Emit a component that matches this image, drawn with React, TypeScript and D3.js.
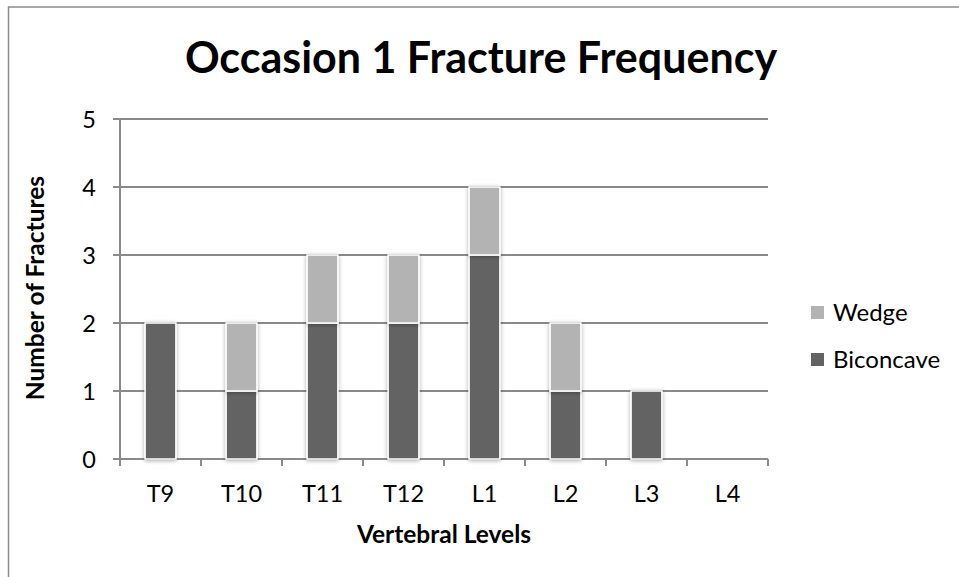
import React from "react";
import * as d3 from "d3";

const categories = ["T9", "T10", "T11", "T12", "L1", "L2", "L3", "L4"];
const biconcave = [2, 1, 2, 2, 3, 1, 1, 0];
const wedge = [0, 1, 1, 1, 1, 1, 0, 0];
const yTicks = [0, 1, 2, 3, 4, 5];
const seriesNames = ["Biconcave", "Wedge"];
const seriesColors = ["#636363", "#b3b3b3"];

const W = 959;
const H = 577;
const FONT = "Lato, 'Open Sans', sans-serif";

export default function App() {
  const x = d3.scaleBand<string>().domain(categories).range([120, 768]).paddingInner(0).paddingOuter(0);
  const y = d3.scaleLinear().domain([0, 5]).range([459, 119]);
  const rows = categories.map((c, i) => ({ cat: c, Biconcave: biconcave[i], Wedge: wedge[i] }));
  const stack = d3.stack<any>().keys(seriesNames)(rows);
  const barW = x.bandwidth() * 0.38;
  const gridColor = "#8a8a8a";
  const boundaries = d3.range(categories.length + 1).map((i) => 120 + i * x.bandwidth());

  return (
    <svg width={W} height={H} style={{ position: "absolute", left: 0, top: 0 }}>
      <defs>
        <filter id="sh" x="-30%" y="-10%" width="160%" height="130%">
          <feGaussianBlur in="SourceAlpha" stdDeviation="2" />
          <feOffset dx="0" dy="1" result="b" />
          <feComponentTransfer>
            <feFuncA type="linear" slope="0.35" />
          </feComponentTransfer>
          <feMerge>
            <feMergeNode />
            <feMergeNode in="SourceGraphic" />
          </feMerge>
        </filter>
      </defs>
      <rect x={0} y={0} width={W} height={H} fill="#fff" />
      <rect x={8.5} y={7} width={W + 10} height={H + 10} fill="none" stroke="#8c8c8c" strokeWidth={1.5} />
      <text x={481} y={73} textAnchor="middle" fontFamily={FONT} fontWeight={700} fontSize={43} fill="#000">
        Occasion 1 Fracture Frequency
      </text>
      {yTicks.map((t) => (
        <g key={t}>
          <line x1={113} x2={768} y1={y(t)} y2={y(t)} stroke={gridColor} strokeWidth={2} />
          <text x={96} y={y(t) + 8.5} textAnchor="end" fontFamily={FONT} fontSize={23.5} fill="#000">
            {t}
          </text>
        </g>
      ))}
      <line x1={120} x2={120} y1={119} y2={466} stroke={gridColor} strokeWidth={2} />
      {boundaries.map((b, i) => (
        <line key={i} x1={b} x2={b} y1={459} y2={466} stroke={gridColor} strokeWidth={2} />
      ))}
      {stack.map((s, si) => (
        <g key={s.key}>
          {s.map((d, i) => {
            const h = y(d[0]) - y(d[1]);
            if (h <= 0) return null;
            return (
              <rect
                key={i}
                x={(x(categories[i]) as number) + (x.bandwidth() - barW) / 2}
                y={y(d[1])}
                width={barW}
                height={h}
                fill={seriesColors[si]}
                stroke="#fff"
                strokeWidth={1.5}
                filter="url(#sh)"
              />
            );
          })}
        </g>
      ))}
      {categories.map((c) => (
        <text
          key={c}
          x={(x(c) as number) + x.bandwidth() / 2}
          y={502}
          textAnchor="middle"
          fontFamily={FONT}
          fontSize={23.5}
          fill="#000"
        >
          {c}
        </text>
      ))}
      <text x={444} y={543} textAnchor="middle" fontFamily={FONT} fontWeight={700} fontSize={24.5} fill="#000">
        Vertebral Levels
      </text>
      <text
        transform={`translate(44,288) rotate(-90)`}
        textAnchor="middle"
        fontFamily={FONT}
        fontWeight={700}
        fontSize={24.5}
        fill="#000"
      >
        Number of Fractures
      </text>
      {[1, 0].map((si, k) => (
        <g key={si} transform={`translate(811,${312.5 + k * 47})`}>
          <rect x={0} y={-6.5} width={13} height={13} fill={seriesColors[si]} />
          <text x={22} y={8.5} fontFamily={FONT} fontSize={24} fill="#000">
            {seriesNames[si]}
          </text>
        </g>
      ))}
    </svg>
  );
}
